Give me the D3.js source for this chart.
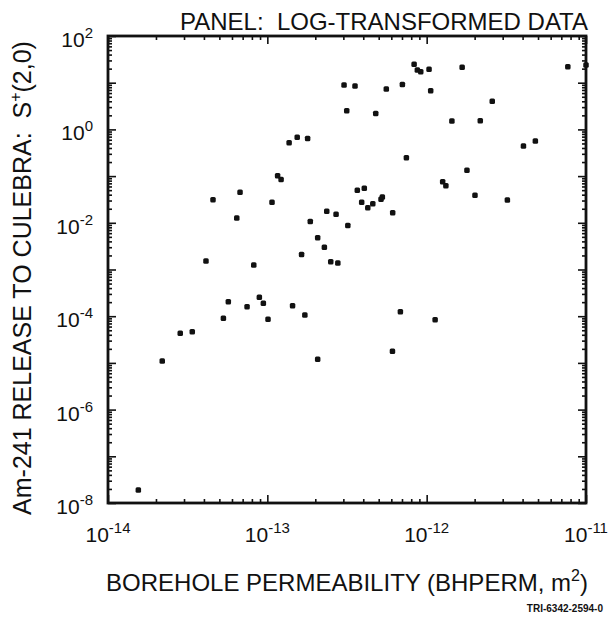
<!DOCTYPE html>
<html lang="en">
<head>
    <meta charset="UTF-8">
    <script src="https://d3js.org/d3.v7.min.js"></script>
    <title>Am-241 release vs BHPERM</title>
    <style>
        body { margin: 0; background: #fff; }
        text { font-family: 'Liberation Sans', Arial, sans-serif; fill: #111; }
        .domain { display: none; }
        .tick line { stroke: #111; stroke-width: 1.6; }
    </style>
</head>
<body>
<svg height="621" width="609"></svg>
<script>
    // borehole permeability (m^2) and Am-241 release, one entry per sample
    const bhperm = [
        3.03e-13, 3.15e-13, 1.37e-13, 1.54e-13, 1.79e-13, 1.16e-13, 1.22e-13, 4.56e-14, 6.74e-14, 1.07e-13,
        6.43e-14, 2.36e-13, 2.70e-13, 1.86e-13, 3.20e-13, 2.07e-13, 2.28e-13, 1.64e-13, 4.12e-14, 8.22e-14,
        2.50e-13, 2.77e-13, 8.34e-13, 8.74e-13, 9.18e-13, 1.035e-12, 1.67e-12, 7.69e-12, 1.0e-11, 3.55e-13,
        5.58e-13, 7.04e-13, 1.06e-12, 2.58e-12, 4.79e-13, 1.44e-12, 2.17e-12, 4.05e-12, 4.81e-12, 7.46e-13,
        1.79e-12, 1.26e-12, 1.32e-12, 3.67e-13, 4.06e-13, 3.91e-13, 4.27e-13, 4.59e-13, 5.17e-13, 5.27e-13,
        6.12e-13, 2.01e-12, 3.21e-12, 5.69e-14, 5.30e-14, 7.46e-14, 8.91e-14, 9.44e-14, 1.01e-13, 1.44e-13,
        1.72e-13, 2.84e-14, 3.38e-14, 2.19e-14, 2.07e-13, 1.55e-14, 6.84e-13, 1.13e-12, 6.10e-13
    ];
    const release = [
        8.9, 2.5, 0.52, 0.68, 0.64, 0.102, 0.085, 0.031, 0.045, 0.0275,
        0.0127, 0.0176, 0.0152, 0.0106, 0.0087, 0.0048, 0.0030, 0.0021, 0.00152, 0.00125,
        0.00147, 0.00138, 24.8, 18.7, 17.2, 19.4, 21.4, 22, 23.9, 8.5,
        7.3, 9.2, 6.7, 4.0, 2.2, 1.51, 1.53, 0.44, 0.565, 0.248,
        0.133, 0.076, 0.062, 0.0497, 0.0548, 0.0275, 0.021, 0.0256, 0.0318, 0.0357,
        0.0164, 0.0388, 0.0308, 2.04e-4, 9.0e-5, 1.6e-4, 2.54e-4, 1.89e-4, 8.6e-5, 1.68e-4,
        1.06e-4, 4.3e-5, 4.66e-5, 1.1e-5, 1.19e-5, 1.9e-8, 1.25e-4, 8.4e-5, 1.77e-5
    ];
    const xTickExp = [-14, -13, -12, -11];
    const yTickExp = [2, 0, -2, -4, -6, -8];

    const mLeft = 108, mRight = 586, mTop = 36, mBottom = 503;
    const svg = d3.select("svg");

    const x = d3.scaleLog().domain([1e-14, 1e-11]).range([mLeft, mRight]);
    const y = d3.scaleLog().domain([1e-8, 1e2]).range([mBottom, mTop]);

    // minor ticks 2..9 in each decade
    function minors(lo, hi) {
        const out = [];
        for (let e = lo; e < hi; e++)
            for (let k = 2; k <= 9; k++) out.push(k * Math.pow(10, e));
        return out;
    }
    const xMajor = d3.range(-14, -10).map(e => Math.pow(10, e));
    const yMajor = d3.range(-8, 3).map(e => Math.pow(10, e));

    function addAxis(axisFn, scale, vals, size, pos) {
        svg.append("g").attr("transform", pos)
            .call(axisFn(scale).tickValues(vals).tickSize(size).tickFormat(""));
    }
    // inward ticks on all four sides
    addAxis(d3.axisBottom, x, xMajor, -8, `translate(0,${mBottom})`);
    addAxis(d3.axisBottom, x, minors(-14, -11), -4, `translate(0,${mBottom})`);
    addAxis(d3.axisTop, x, xMajor, -8, `translate(0,${mTop})`);
    addAxis(d3.axisTop, x, minors(-14, -11), -4, `translate(0,${mTop})`);
    addAxis(d3.axisLeft, y, yMajor, -8, `translate(${mLeft},0)`);
    addAxis(d3.axisLeft, y, minors(-8, 2), -4, `translate(${mLeft},0)`);
    addAxis(d3.axisRight, y, yMajor, -8, `translate(${mRight},0)`);
    addAxis(d3.axisRight, y, minors(-8, 2), -4, `translate(${mRight},0)`);

    svg.append("rect")
        .attr("x", mLeft).attr("y", mTop)
        .attr("width", mRight - mLeft).attr("height", mBottom - mTop)
        .attr("fill", "none").attr("stroke", "#111").attr("stroke-width", 2.8);

    // tick labels with superscript exponents
    function powLabel(sel, e) {
        sel.append("tspan").text("10");
        sel.append("tspan").attr("dy", -9).attr("font-size", 15)
            .text(e < 0 ? "-" + (-e) : e);
    }
    xTickExp.forEach(e => {
        const t = svg.append("text").attr("x", x(Math.pow(10, e))).attr("y", 542)
            .attr("text-anchor", "middle").attr("font-size", 21);
        powLabel(t, e);
    });
    yTickExp.forEach(e => {
        const t = svg.append("text").attr("x", 93).attr("y", y(Math.pow(10, e)) + 11)
            .attr("text-anchor", "end").attr("font-size", 21);
        powLabel(t, e);
    });

    svg.selectAll("rect.pt").data(bhperm).enter().append("rect")
        .attr("class", "pt")
        .attr("x", d => x(d) - 2.75)
        .attr("y", (d, i) => y(release[i]) - 2.75)
        .attr("width", 5.5).attr("height", 5.5).attr("rx", 1.5)
        .attr("fill", "#111");

    svg.append("text").attr("x", 588).attr("y", 30)
        .attr("text-anchor", "end").attr("font-size", 24)
        .style("white-space", "pre")
        .text("PANEL:  LOG-TRANSFORMED DATA");

    const xl = svg.append("text").attr("x", 347).attr("y", 591)
        .attr("text-anchor", "middle").attr("font-size", 24);
    xl.append("tspan").text("BOREHOLE PERMEABILITY (BHPERM, m");
    xl.append("tspan").attr("dy", -10).attr("font-size", 16).text("2");
    xl.append("tspan").attr("dy", 10).text(")");

    const yl = svg.append("text")
        .attr("transform", "translate(31,278) rotate(-90)")
        .attr("text-anchor", "middle").attr("font-size", 25)
        .style("white-space", "pre");
    yl.append("tspan").text("Am-241 RELEASE TO CULEBRA:  S");
    yl.append("tspan").attr("dy", -10).attr("font-size", 16).text("+");
    yl.append("tspan").attr("dy", 10).text("(2,0)");

    svg.append("text").attr("x", 603).attr("y", 612)
        .attr("text-anchor", "end").attr("font-size", 10).attr("font-weight", "bold")
        .text("TRI-6342-2594-0");
</script>
</body>
</html>
